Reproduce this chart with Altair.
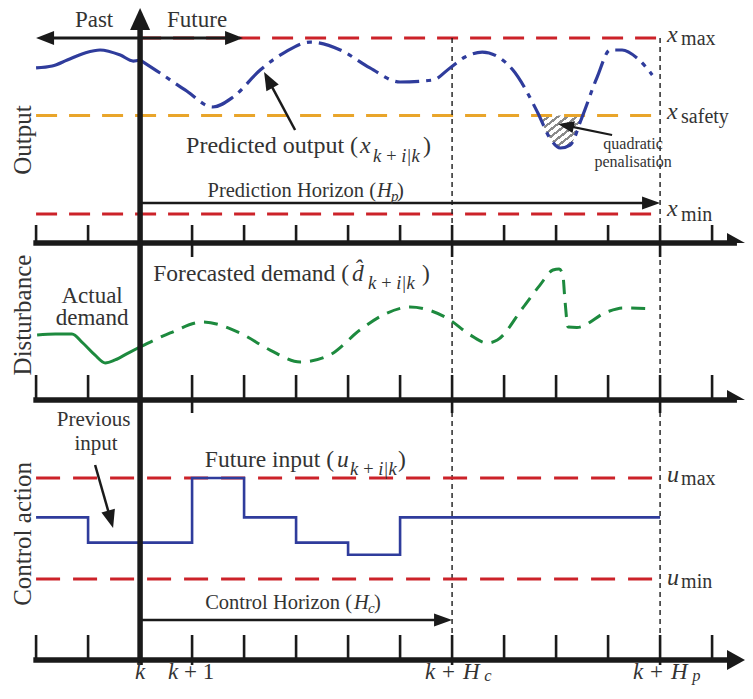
import math
import altair as alt
import pandas as pd

# ------------------------------------------------------------------
# Values
# ------------------------------------------------------------------
# time axis: k = 0, one unit per sampling step
TICKS_T = list(range(-2, 12))
T_HC = 6
T_HP = 10
LONG_TICKS_UPPER = [1, 6, 10]
LONG_TICKS_LOWER = [0, 1, 6, 10]

# Output panel (units: x_min = 0, x_max = 10)
X_MAX, X_SAFETY, X_MIN = 10.0, 5.6, 0.0
past_out_t = [-2.0, -1.69, -1.40, -1.06, -0.77, -0.38, -0.13, 0.0]
past_out_v = [8.30, 8.41, 8.75, 9.15, 9.32, 9.03, 8.69, 8.75]
pred_out_t = [0.0, 0.385, 0.865, 1.40, 1.79, 2.31, 2.79, 3.27, 3.85, 4.42, 5.0,
              5.63, 5.96, 6.25, 6.58, 6.92, 7.17, 7.65, 7.88, 8.08, 8.27, 8.50,
              8.79, 9.04, 9.27, 9.56, 9.85]
pred_out_v = [8.75, 8.01, 7.05, 6.08, 6.65, 8.18, 9.20, 9.77, 9.32, 8.30, 7.50,
              7.61, 8.30, 8.92, 9.20, 8.86, 8.18, 5.74, 4.32, 3.75, 3.92, 5.51,
              7.78, 9.32, 9.32, 8.86, 7.90]
viol_t = [7.67, 7.88, 8.08, 8.27, 8.48]
viol_v = [5.6, 4.32, 3.75, 3.92, 5.6]

# Disturbance panel (units: 0 = its axis, 10 = the axis above)
act_dem_t = [-1.98, -1.63, -1.31, -1.10, -0.87, -0.67, -0.48, -0.23, 0.0]
act_dem_v = [4.14, 4.20, 4.20, 3.63, 2.87, 2.36, 2.55, 2.99, 3.38]
fc_dem_t = [0.0, 0.58, 1.21, 1.92, 2.5, 3.08, 3.65, 4.23, 4.67, 5.19, 5.90, 6.35,
            6.67, 6.87, 7.37, 7.69, 7.94, 8.06, 8.13, 8.17, 8.23, 8.40, 8.98,
            9.29, 9.87]
fc_dem_v = [3.38, 4.27, 4.97, 4.27, 3.18, 2.42, 2.87, 4.46, 5.41, 5.92, 5.22, 4.14,
            3.63, 3.82, 5.92, 7.32, 8.28, 8.35, 7.96, 6.37, 4.65, 4.62, 5.61,
            5.86, 5.80]

# Control panel (units: u_min = 0, u_max = 10)
U_MAX, U_MIN = 10.0, 0.0
u_t = [-2, -1, 0, 1, 2, 3, 4, 5, 10]
u_v = [6.1, 3.6, 3.6, 10.0, 6.1, 3.6, 2.4, 6.1, 6.1]

SUB_KIK = "k\u2009+\u2009i|k"

# ------------------------------------------------------------------
# Styling / layout
# ------------------------------------------------------------------
FONT = "Liberation Serif"
TXT = "#333333"
BLACK = "#1a1a1a"
BLUE = "#2f3c9c"
RED = "#cc2229"
ORANGE = "#e9a52a"
GREEN = "#1d8a3e"

W = 737
PX_T = 52.0
T_LEFT = -2.54
T_RIGHT = T_LEFT + W / PX_T


class Panel:
    def __init__(self, h, px, high):
        self.h = h
        self.px = px
        self.high = high
        self.low = high - h / px
        self.layers = []

    def ys(self):
        return alt.Scale(domain=[self.low, self.high], nice=False, zero=False)


def X(f="t"):
    return alt.X(f"{f}:Q", scale=alt.Scale(domain=[T_LEFT, T_RIGHT], nice=False, zero=False), axis=None)


def Y(p, f="y"):
    return alt.Y(f"{f}:Q", scale=p.ys(), axis=None)


def curve(p, t, y, color, width, dash=None, interp="monotone"):
    df = pd.DataFrame({"t": t, "y": y, "o": list(range(len(t)))})
    kw = dict(color=color, strokeWidth=width, interpolate=interp)
    if dash:
        kw["strokeDash"] = dash
    p.layers.append(alt.Chart(df).mark_line(**kw).encode(x=X(), y=Y(p), order="o:Q"))


def rules(p, rows, color, width, dash=None, clip=False, cap="butt"):
    df = pd.DataFrame(rows, columns=["t", "y", "t2", "y2"])
    kw = dict(color=color, strokeWidth=width, strokeCap=cap)
    if dash:
        kw["strokeDash"] = dash
    if clip:
        kw["clip"] = True
    p.layers.append(alt.Chart(df).mark_rule(**kw).encode(x=X(), x2="t2:Q", y=Y(p), y2="y2:Q"))


def heads(p, rows, color, L, w):
    df = pd.DataFrame(rows, columns=["t", "y", "a"])
    path = f"M0,0L{-w / L:.4f},1L{w / L:.4f},1Z"
    p.layers.append(
        alt.Chart(df).mark_point(shape=path, filled=True, size=4 * L * L, color=color,
                                 opacity=1, strokeWidth=0, clip=True)
        .encode(x=X(), y=Y(p), angle=alt.Angle("a:Q", scale=None))
    )


def arrow(p, t0, y0, t1, y1, color=BLACK, width=2.5, L=18, w=7):
    dx = (t1 - t0) * PX_T
    dy = -(y1 - y0) * p.px
    n = math.hypot(dx, dy)
    ang = math.degrees(math.atan2(dx, -dy)) % 360
    back = 0.6 * L
    te = t1 - back * dx / n / PX_T
    ye = y1 + back * dy / n / p.px
    rules(p, [(t0, y0, te, ye)], color, width)
    heads(p, [(t1, y1, ang)], color, L, w)


def texts(p, rows, size, italic=False, align="left", baseline="alphabetic", angle=0,
          color=TXT, clip=False):
    df = pd.DataFrame(rows, columns=["t", "y", "s"])
    kw = dict(font=FONT, fontSize=size, align=align, baseline=baseline, color=color)
    if italic:
        kw["fontStyle"] = "italic"
    if angle:
        kw["angle"] = angle
    if clip:
        kw["clip"] = True
    p.layers.append(alt.Chart(df).mark_text(**kw).encode(x=X(), y=Y(p), text="s:N"))


def time_axis(p, y_axis, up_px, long_t, down_px):
    up = y_axis + up_px / p.px
    down = y_axis - down_px / p.px
    tick_rows = [(t, y_axis, t, up) for t in TICKS_T]
    long_rows = [(t, down, t, y_axis) for t in long_t]
    rules(p, tick_rows + long_rows, BLACK, 2.6)
    L = 18
    rules(p, [(TICKS_T[0], y_axis, T_RIGHT - 0.6 * L / PX_T, y_axis)], BLACK, 5.5, cap="square")
    heads(p, [(T_RIGHT, y_axis, 90)], BLACK, L, 10)


A = Panel(235, 17.6, 11.705)
B = Panel(157, 15.7, 10.0)
C = Panel(280, 10.1, 17.72)
A_AXIS = A.low
C_AXIS = -8.02

# hatch pattern for the constraint violation
stops = []
N_STRIPES = 9
for i in range(N_STRIPES):
    a = i / N_STRIPES
    b = (i + 0.4) / N_STRIPES
    c = (i + 1) / N_STRIPES
    stops += [{"offset": a, "color": "#8a8a8a"}, {"offset": b, "color": "#8a8a8a"},
              {"offset": b, "color": "#ffffff"}, {"offset": c, "color": "#ffffff"}]
HATCH = {"gradient": "linear", "stops": stops, "x1": 0, "y1": 0, "x2": 1, "y2": 1}

# ---------------- Panel A: output ----------------
hatch_df = pd.DataFrame({"t": viol_t, "y": viol_v, "b": [X_SAFETY] * len(viol_t)})
A.layers.append(alt.Chart(hatch_df).mark_area(interpolate="monotone", fill=HATCH, opacity=1)
                .encode(x=X(), y=Y(A), y2="b:Q"))
rules(A, [(0, X_MAX, T_HP, X_MAX)], RED, 3, dash=[21, 12])
rules(A, [(-2, X_SAFETY, T_HP, X_SAFETY)], ORANGE, 3, dash=[21, 12])
rules(A, [(-2, X_MIN, T_HP, X_MIN)], RED, 3, dash=[21, 12])
rules(A, [(T_HC, X_MAX, T_HC, A_AXIS), (T_HP, X_MAX, T_HP, A_AXIS)], BLACK, 1.4, dash=[5, 4])
curve(A, past_out_t, past_out_v, BLUE, 3.2)
curve(A, pred_out_t, pred_out_v, BLUE, 3.2, dash=[24, 7, 5, 7])
time_axis(A, A_AXIS, 18, LONG_TICKS_UPPER, 14)
rules(A, [(0, A.high - 14 / A.px, 0, A_AXIS)], BLACK, 5.5)
heads(A, [(0, A.high, 0)], BLACK, 22, 10)
rules(A, [(-2 + 10 / PX_T, X_MAX, 1.98 - 10 / PX_T, X_MAX)], BLACK, 3)
heads(A, [(-2, X_MAX, 270), (1.98, X_MAX, 90)], BLACK, 18, 7)
texts(A, [(-0.885, 10.625, "Past"), (1.096, 10.625, "Future")], 23, align="center")
texts(A, [(-2.096, 4.205, "Output")], 25, align="center", angle=270)
texts(A, [(4.192, 3.466, "Predicted output (")], 24, align="right")
texts(A, [(5.442, 3.466, ")")], 24)
texts(A, [(4.231, 3.466, "x")], 24, italic=True)
texts(A, [(4.481, 2.955, SUB_KIK)], 18.5, italic=True)
arrow(A, 2.981, 4.773, 2.385, 8.068)
arrow(A, 0, 0.625, T_HP, 0.625, width=2.5, L=18, w=6.5)
texts(A, [(4.538, 0.966, "Prediction Horizon (")], 20.5, align="right")
texts(A, [(4.942, 0.966, ")")], 20.5)
texts(A, [(4.558, 0.966, "H")], 20.5, italic=True)
texts(A, [(4.827, 0.739, "p")], 15, italic=True)
texts(A, [(9.481, 3.69, "quadratic"), (9.481, 2.67, "penalisation")], 16, align="center")
arrow(A, 9.077, 4.489, 8.038, 5.114, width=2.2, L=16, w=6)
texts(A, [(10.135, 9.773, "x"), (10.135, 5.398, "x"), (10.135, -0.114, "x")], 24, italic=True)
texts(A, [(10.404, 9.602, "max"), (10.404, 5.170, "safety"), (10.404, -0.398, "min")], 20)

# ---------------- Panel B: disturbance ----------------
rules(B, [(T_HC, B.low, T_HC, B.high), (T_HP, B.low, T_HP, B.high)], BLACK, 1.4, dash=[5, 4])
curve(B, act_dem_t, act_dem_v, GREEN, 3)
curve(B, fc_dem_t, fc_dem_v, GREEN, 3, dash=[14, 9])
rules(B, [(0, B.low, 0, B.high)], BLACK, 5.5)
time_axis(B, 0.0, 25, LONG_TICKS_UPPER, 13)
texts(B, [(-2.096, 5.414, "Disturbance")], 25, align="center", angle=270)
texts(B, [(-0.923, 6.20, "Actual"), (-0.923, 4.75, "demand")], 23, align="center")
texts(B, [(4.019, 7.580, "Forecasted demand (")], 23.5, align="right")
texts(B, [(5.423, 7.580, ")")], 23.5)
texts(B, [(4.077, 7.580, "d\u0302")], 23.5, italic=True)
texts(B, [(4.385, 7.070, SUB_KIK)], 18.5, italic=True)

# ---------------- Panel C: control action ----------------
rules(C, [(T_HC, C_AXIS, T_HC, C.high), (T_HP, C_AXIS, T_HP, C.high)], BLACK, 1.4, dash=[5, 4])
rules(C, [(-2, U_MAX, T_HP, U_MAX), (-2, U_MIN, T_HP, U_MIN)], RED, 3, dash=[24, 13])
curve(C, u_t, u_v, BLUE, 2.6, interp="step-after")
rules(C, [(0, C_AXIS - 5 / C.px, 0, C.high)], BLACK, 5.5)
time_axis(C, C_AXIS, 25, LONG_TICKS_LOWER, 5)
arrow(C, 0, -4.059, T_HC, -4.059, width=2.5, L=18, w=6.5)
texts(C, [(-2.096, 4.455, "Control action")], 25, align="center", angle=270)
texts(C, [(-0.894, 15.15, "Previous"), (-0.846, 12.77, "input")], 21, align="center")
arrow(C, -0.865, 11.287, -0.519, 5.050)
texts(C, [(3.731, 11.089, "Future input (")], 23.5, align="right")
texts(C, [(4.962, 11.089, ")")], 23.5)
texts(C, [(3.788, 11.089, "u")], 23.5, italic=True)
texts(C, [(4.038, 10.297, SUB_KIK)], 18.5, italic=True)
texts(C, [(4.077, -2.970, "Control Horizon (")], 20.5, align="right")
texts(C, [(4.5, -2.970, ")")], 20.5)
texts(C, [(4.115, -2.970, "H")], 20.5, italic=True)
texts(C, [(4.385, -3.366, "c")], 15, italic=True)
texts(C, [(10.135, 9.604, "u"), (10.135, -0.594, "u")], 24, italic=True)
texts(C, [(10.404, 9.307, "max"), (10.404, -0.891, "min")], 20)
BL = -9.90
texts(C, [(0, BL, "k")], 23, italic=True, align="center")
texts(C, [(0.538, BL, "k"), (5.481, BL, "k"), (9.481, BL, "k"),
          (6.212, BL, "H"), (10.212, BL, "H")], 23, italic=True)
texts(C, [(0.846, BL, "+ 1"), (5.808, BL, "+"), (9.808, BL, "+")], 23)
texts(C, [(6.620, BL - 0.2, "c"), (10.620, BL - 0.2, "p")], 16.5, italic=True)


def build(p):
    return alt.layer(*p.layers).properties(width=W, height=p.h)


chart = (
    alt.vconcat(build(A), build(B), build(C), spacing=0, bounds="flush")
    .properties(padding=0)
    .configure_view(stroke=None)
)
chart.save("out.html", embed_options={"renderer": "svg", "actions": False})
